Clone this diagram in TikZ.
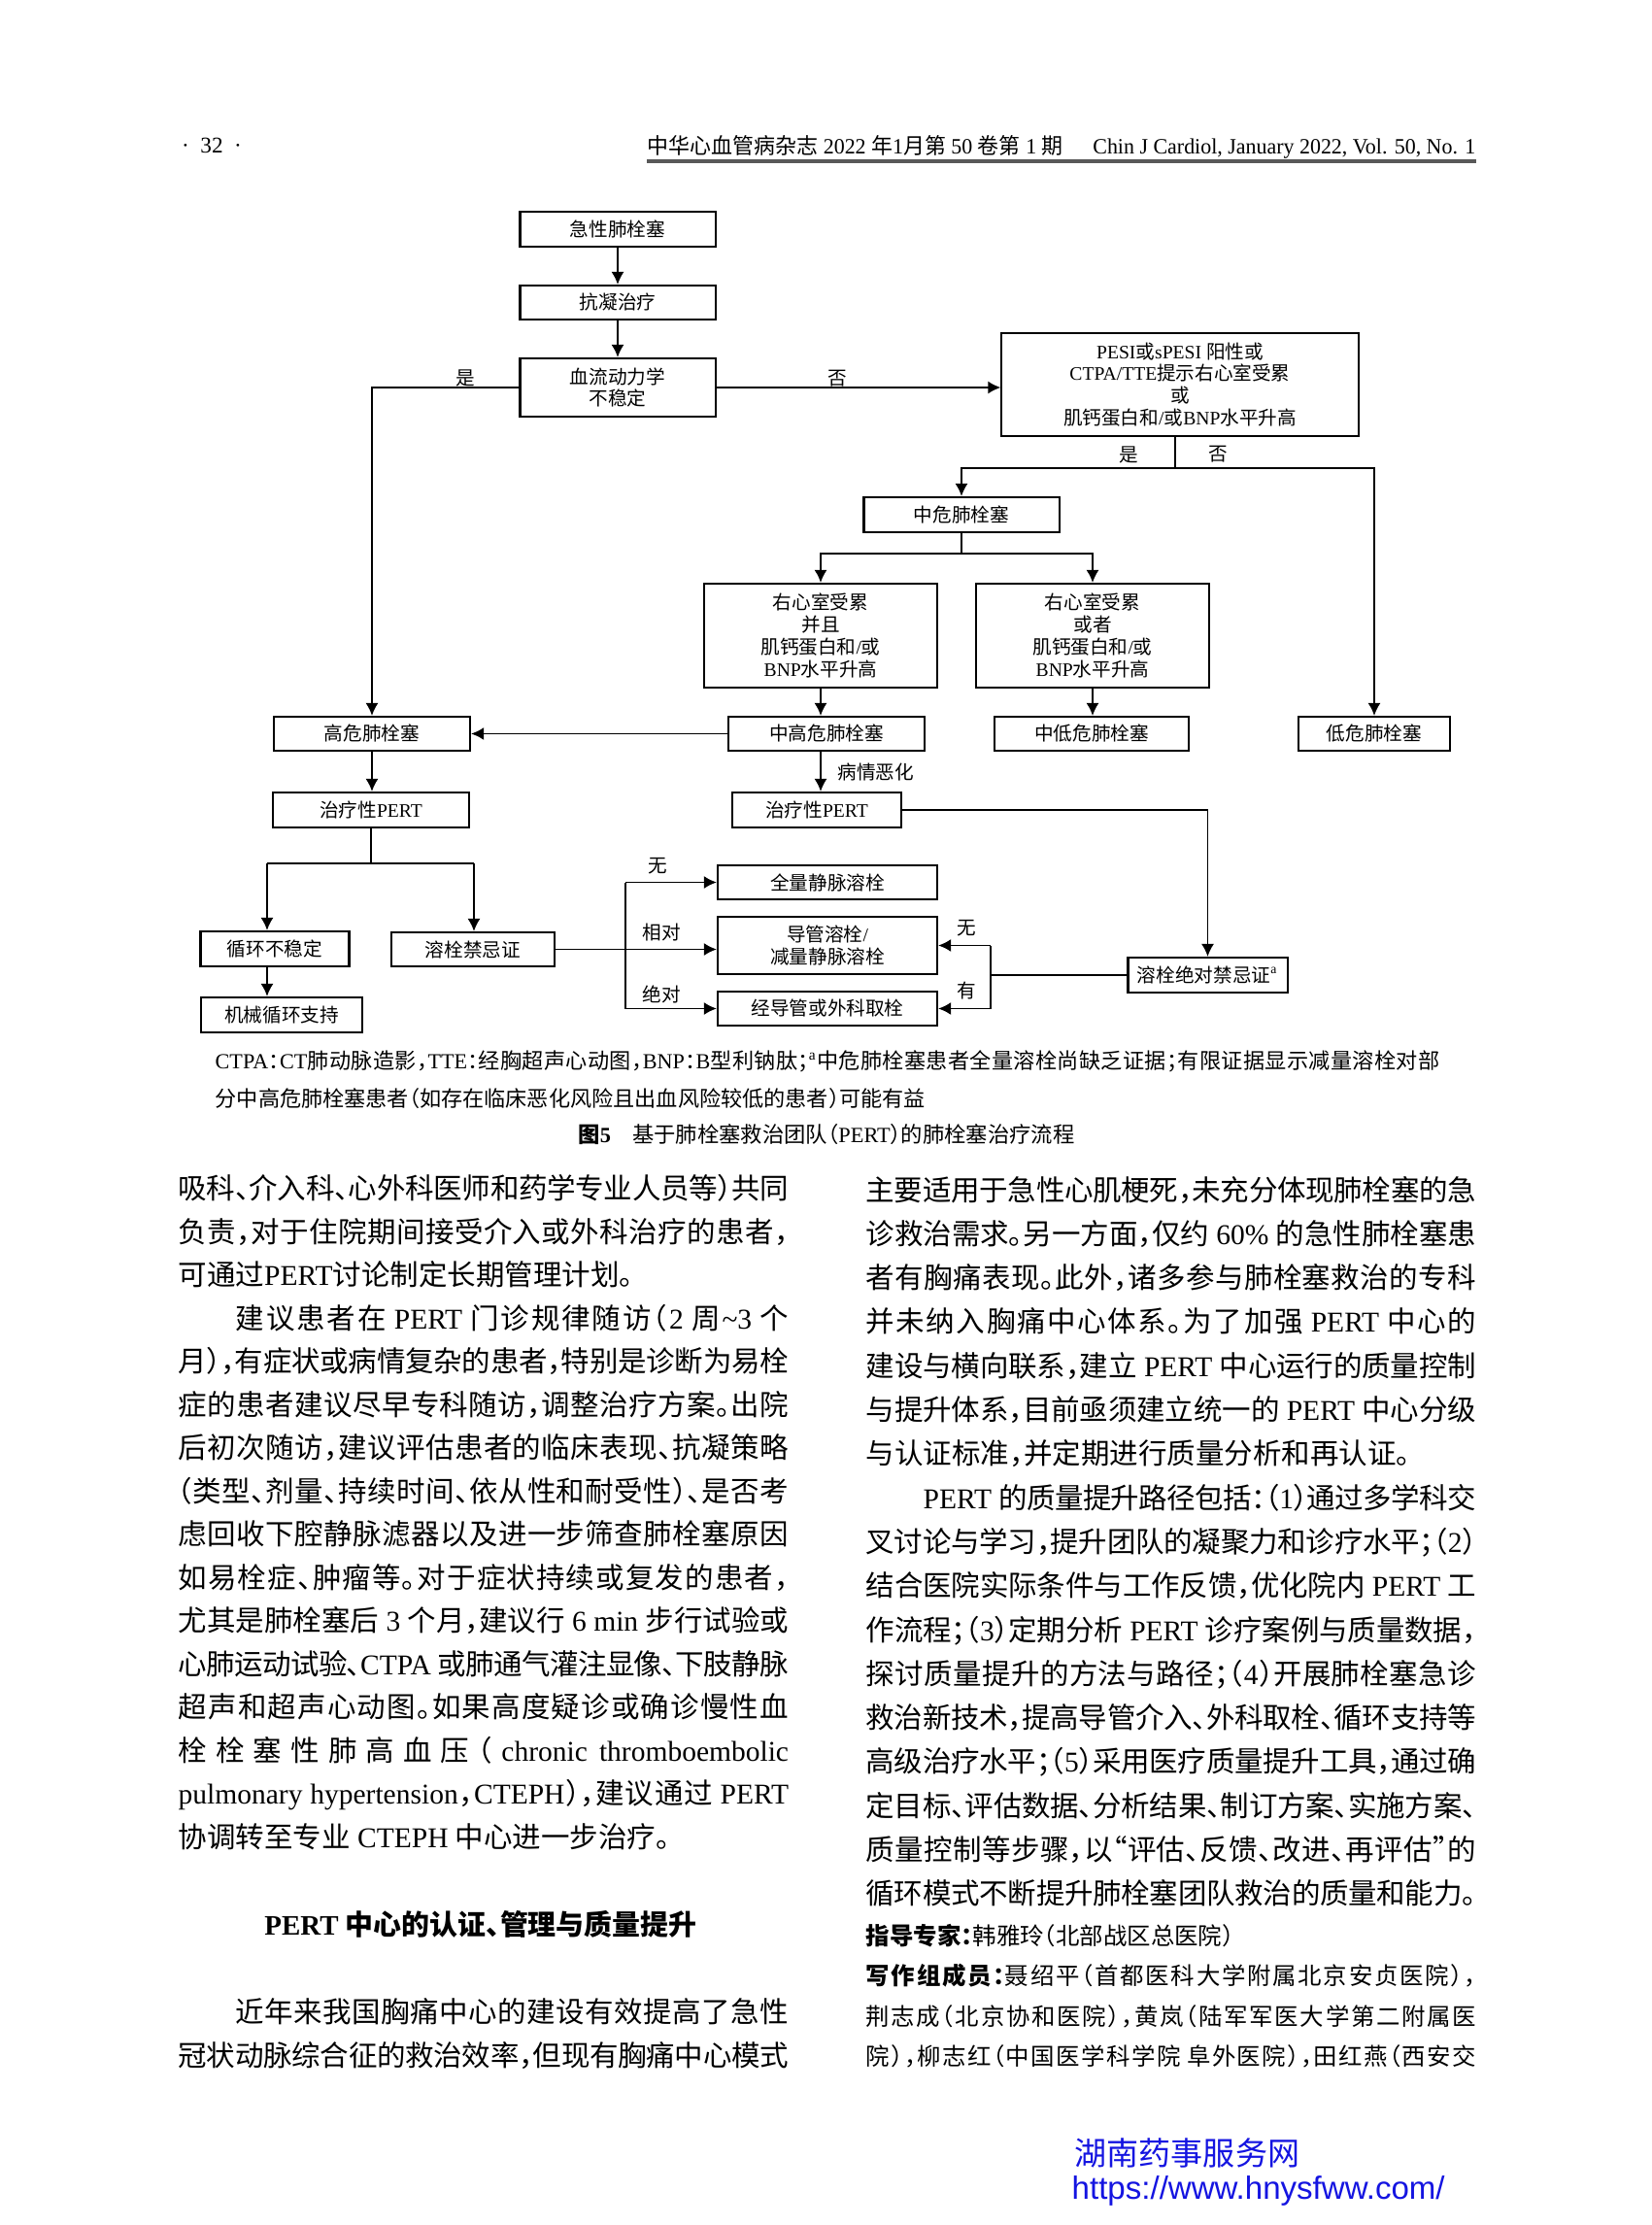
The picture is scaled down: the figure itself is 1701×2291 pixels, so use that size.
\documentclass[tikz,border=0pt]{standalone}
\usepackage{fontspec}
\usepackage{graphicx}
\usetikzlibrary{arrows.meta}
\setmainfont{Liberation Serif}
\newfontfamily\latf{Liberation Serif}
\newfontfamily\cjkf[RawFeature={+halt}]{Noto Sans CJK SC}
\newfontfamily\wmf{Liberation Sans}
% automatic switching between Latin and CJK fonts
\XeTeXinterchartokenstate=1
\ifdefined\newXeTeXintercharclass
  \newXeTeXintercharclass\CJKcls
\else
  \chardef\CJKcls=7
\fi
\newcount\cjkcnt
\def\cjkrange#1#2{\cjkcnt=#1\relax
  \loop\XeTeXcharclass\cjkcnt=\CJKcls\relax
  \ifnum\cjkcnt<#2\relax\advance\cjkcnt by 1\relax\repeat}
\cjkrange{"3000}{"303F}
\cjkrange{"4E00}{"9FFF}
\cjkrange{"FF00}{"FFEF}
\XeTeXcharclass"201C=\CJKcls
\XeTeXcharclass"201D=\CJKcls
\def\cjkglue{\hskip0pt plus 2pt minus 1pt\relax}
\XeTeXinterchartoks 0 \CJKcls={\cjkglue\cjkf}
\XeTeXinterchartoks 4095 \CJKcls={\cjkf}
\XeTeXinterchartoks \CJKcls 0={\latf\cjkglue}
\XeTeXinterchartoks \CJKcls 4095={\latf}
\XeTeXinterchartoks \CJKcls \CJKcls={\cjkglue}

\newcommand\figf{\fontsize{5.58}{6.5}\selectfont}
\newcommand\bodyf{\fontsize{8.39}{10}\selectfont}
\newcommand\notef{\fontsize{6.3}{7.5}\selectfont}
\newcommand\smallf{\fontsize{6.95}{8}\selectfont}
\newlength\colw \setlength\colw{6.28cm}
\newcommand\fl[1]{\hbox to\colw{#1}}
\definecolor{wmblue}{RGB}{20,20,225}

\tikzset{
  box/.style={draw, line width=0.6pt, inner sep=0pt, align=center, font=\figf},
  arr/.style={line width=0.5pt, -{Latex[length=1.3mm,width=1.3mm]}},
  ln/.style={line width=0.5pt},
  lbl/.style={inner sep=0pt, font=\figf},
  bl/.style={anchor=base west, inner sep=0pt, font=\bodyf},
  sl/.style={anchor=base west, inner sep=0pt, font=\smallf},
}

\begin{document}
\begin{tikzpicture}[x=0.01cm,y=-0.01cm]
\fill[white] (0,0) rectangle (1701,2291);
\useasboundingbox (0,0) rectangle (1701,2291);

% ---------- header ----------
\node[inner sep=0pt, anchor=base, font=\fontsize{6.6}{8}\selectfont] (pg) at (218,158) {·\hspace{0.5em}32\hspace{0.5em}·};
\node[inner sep=0pt, anchor=base east, font=\fontsize{6.4}{8}\selectfont] (hd) at (1520,158)
  {\resizebox{8.52cm}{\height}{中华心血管病杂志 2022 年1月第 50 卷第 1 期\hspace{1.4em}Chin J Cardiol, January 2022, Vol. 50, No. 1}};
\draw[line width=0.9pt, black!65] (hd.south west |- 0,166) -- (hd.south east |- 0,166);

% ---------- flowchart boxes ----------
\node[box, minimum width=2.01cm, minimum height=0.36cm] (b1) at (636,236) {急性肺栓塞};
\node[box, minimum width=2.01cm, minimum height=0.35cm] (b2) at (636,311.5) {抗凝治疗};
\node[box, minimum width=2.01cm, minimum height=0.60cm] (b3) at (636,399) {血流动力学\\不稳定};
\node[box, minimum width=3.67cm, minimum height=1.06cm] (b4) at (1215,396)
  {PESI或sPESI 阳性或\\CTPA/TTE提示右心室受累\\或\\肌钙蛋白和/或BNP水平升高};
\node[box, minimum width=2.01cm, minimum height=0.36cm] (b5) at (990,530) {中危肺栓塞};
\node[box, minimum width=2.40cm, minimum height=1.07cm] (b6) at (845,654.5)
  {右心室受累\\并且\\肌钙蛋白和/或\\BNP水平升高};
\node[box, minimum width=2.40cm, minimum height=1.07cm] (b7) at (1125,654.5)
  {右心室受累\\或者\\肌钙蛋白和/或\\BNP水平升高};
\node[box, minimum width=2.02cm, minimum height=0.35cm] (b8) at (383,755.5) {高危肺栓塞};
\node[box, minimum width=2.02cm, minimum height=0.35cm] (b9) at (851,755.5) {中高危肺栓塞};
\node[box, minimum width=2.00cm, minimum height=0.35cm] (b10) at (1124,755.5) {中低危肺栓塞};
\node[box, minimum width=1.56cm, minimum height=0.35cm] (b11) at (1415,755.5) {低危肺栓塞};
\node[box, minimum width=2.02cm, minimum height=0.36cm] (b12) at (382,834) {治疗性PERT};
\node[box, minimum width=1.74cm, minimum height=0.36cm] (b13) at (841,834) {治疗性PERT};
\node[box, minimum width=1.53cm, minimum height=0.36cm] (b14) at (283,977) {循环不稳定};
\node[box, minimum width=1.68cm, minimum height=0.35cm] (b15) at (487,977.5) {溶栓禁忌证};
\node[box, minimum width=1.66cm, minimum height=0.36cm] (b16) at (290,1045) {机械循环支持};
\node[box, minimum width=2.26cm, minimum height=0.35cm] (b17) at (852,908.5) {全量静脉溶栓};
\node[box, minimum width=2.26cm, minimum height=0.59cm] (b18) at (852,973.5) {导管溶栓/\\减量静脉溶栓};
\node[box, minimum width=2.26cm, minimum height=0.35cm] (b19) at (852,1038.5) {经导管或外科取栓};
\node[box, minimum width=1.64cm, minimum height=0.36cm] (b20) at (1243.5,1004) {溶栓绝对禁忌证\textsuperscript{\latf a}};

% ---------- junction points ----------
\coordinate (j1) at (1210,482);
\coordinate (j2) at (990,570);
\coordinate (j3) at (382,889);
\coordinate (j3l) at (275,889);
\coordinate (j3r) at (488,889);
\coordinate (v1) at (644,908.5);
\coordinate (v2) at (644,1038.5);
\coordinate (v3) at (1020,973.5);
\coordinate (v4) at (1020,1038.5);

% ---------- connectors ----------
\draw[arr] (b1) -- (b2);
\draw[arr] (b2) -- (b3);
\draw[arr] (b3.east) -- (b3.east -| b4.west);
\draw[arr] (b3.west) -| (b8.north);
\draw[ln] (j1 |- b4.south) -- (j1);
\draw[arr] (j1) -| (b5.north);
\draw[arr] (j1) -| (b11.north);
\draw[ln] (b5.south) -- (j2);
\draw[arr] (j2) -| (b6.north);
\draw[arr] (j2) -| (b7.north);
\draw[arr] (b6.south) -- (b6.south |- b9.north);
\draw[arr] (b7.south) -- (b7.south |- b10.north);
\draw[arr] (b9.west) -- (b8.east);
\draw[arr] (b8.south) -- (b8.south |- b12.north);
\draw[arr] (b6.south |- b9.south) -- (b6.south |- b13.north);
\draw[arr] (b13.east) -| (b20.north);
\draw[ln] (b12.south) -- (j3);
\draw[ln] (j3l) -- (j3r);
\draw[arr] (j3l) -- (j3l |- b14.north);
\draw[arr] (j3r) -- (j3r |- b15.north);
\draw[arr] (j3l |- b14.south) -- (j3l |- b16.north);
\draw[arr] (b15.east) -- (b15.east -| b18.west);
\draw[ln] (v1) -- (v2);
\draw[arr] (v1) -- (b17.west);
\draw[arr] (v2) -- (b19.west);
\draw[ln] (b20.west) -- (b20.west -| v3);
\draw[ln] (v3) -- (v4);
\draw[arr] (v3) -- (b18.east);
\draw[arr] (v4) -- (b19.east);

% ---------- connector labels ----------
\node[lbl] (t1) at (479,389) {是};
\node[lbl] (t2) at (862,390) {否};
\node[lbl] (t3) at (1162,468) {是};
\node[lbl] (t4) at (1254,468) {否};
\node[lbl, anchor=west] (t5) at (862,795) {病情恶化};
\node[lbl] (t6) at (677,892) {无};
\node[lbl] (t7) at (681,960) {相对};
\node[lbl] (t8) at (681,1023.5) {绝对};
\node[lbl] (t9) at (995,955.5) {无};
\node[lbl] (t10) at (995,1020.5) {有};

% ---------- figure notes and caption ----------
\node[anchor=base west, inner sep=0pt, font=\notef] (n1) at (221,1100)
  {\hbox to 12.6cm{CTPA：CT肺动脉造影，TTE：经胸超声心动图，BNP：B型利钠肽；\textsuperscript{\latf a}中危肺栓塞患者全量溶栓尚缺乏证据；有限证据显示减量溶栓对部}};
\node[anchor=base west, inner sep=0pt, font=\notef] (n2) at (221,1139)
  {分中高危肺栓塞患者（如存在临床恶化风险且出血风险较低的患者）可能有益};
\node[anchor=base, inner sep=0pt, font=\fontsize{6.35}{7.5}\selectfont] (cap) at (851,1176)
  {{\bfseries 图5}\hspace{1em}\cjkf 基于肺栓塞救治团队（PERT）的肺栓塞治疗流程};

% ---------- left column ----------
\node[bl] (l1) at (183,1234.5) {\fl{吸科、介入科、心外科医师和药学专业人员等）共同}};
\node[bl] (l2) at (183,1279) {\fl{负责，对于住院期间接受介入或外科治疗的患者，}};
\node[bl] (l3) at (183,1323.5) {可通过PERT讨论制定长期管理计划。};
\node[bl] (l4) at (183,1368) {\fl{\hskip2em 建议患者在 PERT 门诊规律随访（2 周\string~3 个}};
\node[bl] (l5) at (183,1412.5) {\fl{月），有症状或病情复杂的患者，特别是诊断为易栓}};
\node[bl] (l6) at (183,1457) {\fl{症的患者建议尽早专科随访，调整治疗方案。出院}};
\node[bl] (l7) at (183,1501.5) {\fl{后初次随访，建议评估患者的临床表现、抗凝策略}};
\node[bl] (l8) at (183,1546) {\fl{（类型、剂量、持续时间、依从性和耐受性）、是否考}};
\node[bl] (l9) at (183,1590.5) {\fl{虑回收下腔静脉滤器以及进一步筛查肺栓塞原因}};
\node[bl] (l10) at (183,1635) {\fl{如易栓症、肿瘤等。对于症状持续或复发的患者，}};
\node[bl] (l11) at (183,1679.5) {\fl{尤其是肺栓塞后 3 个月，建议行 6 min 步行试验或}};
\node[bl] (l12) at (183,1724) {\fl{心肺运动试验、CTPA 或肺通气灌注显像、下肢静脉}};
\node[bl] (l13) at (183,1768.5) {\fl{超声和超声心动图。如果高度疑诊或确诊慢性血}};
\node[bl] (l14) at (183,1813) {\fl{栓栓塞性肺高血压（chronic thromboembolic}};
\node[bl] (l15) at (183,1857.5) {\fl{pulmonary hypertension，CTEPH），建议通过 PERT}};
\node[bl] (l16) at (183,1902) {协调转至专业 CTEPH 中心进一步治疗。};
\node[anchor=base, inner sep=0pt, font=\fontsize{8.23}{9.5}\selectfont\bfseries] (hd2) at (495,1992)
  {PERT 中心的认证、管理与质量提升};
\node[bl] (l17) at (183,2082.5) {\fl{\hskip2em 近年来我国胸痛中心的建设有效提高了急性}};
\node[bl] (l18) at (183,2127) {\fl{冠状动脉综合征的救治效率，但现有胸痛中心模式}};

% ---------- right column ----------
\node[bl] (r1) at (891,1236) {\fl{主要适用于急性心肌梗死，未充分体现肺栓塞的急}};
\node[bl] (r2) at (891,1281.3) {\fl{诊救治需求。另一方面，仅约 60\% 的急性肺栓塞患}};
\node[bl] (r3) at (891,1326.6) {\fl{者有胸痛表现。此外，诸多参与肺栓塞救治的专科}};
\node[bl] (r4) at (891,1371.9) {\fl{并未纳入胸痛中心体系。为了加强 PERT 中心的}};
\node[bl] (r5) at (891,1417.2) {\fl{建设与横向联系，建立 PERT 中心运行的质量控制}};
\node[bl] (r6) at (891,1462.5) {\fl{与提升体系，目前亟须建立统一的 PERT 中心分级}};
\node[bl] (r7) at (891,1507.8) {与认证标准，并定期进行质量分析和再认证。};
\node[bl] (r8) at (891,1553.1) {\fl{\hskip2em PERT 的质量提升路径包括：（1）通过多学科交}};
\node[bl] (r9) at (891,1598.4) {\fl{叉讨论与学习，提升团队的凝聚力和诊疗水平；（2）}};
\node[bl] (r10) at (891,1643.7) {\fl{结合医院实际条件与工作反馈，优化院内 PERT 工}};
\node[bl] (r11) at (891,1689) {\fl{作流程；（3）定期分析 PERT 诊疗案例与质量数据，}};
\node[bl] (r12) at (891,1734.3) {\fl{探讨质量提升的方法与路径；（4）开展肺栓塞急诊}};
\node[bl] (r13) at (891,1779.6) {\fl{救治新技术，提高导管介入、外科取栓、循环支持等}};
\node[bl] (r14) at (891,1824.9) {\fl{高级治疗水平；（5）采用医疗质量提升工具，通过确}};
\node[bl] (r15) at (891,1870.2) {\fl{定目标、评估数据、分析结果、制订方案、实施方案、}};
\node[bl] (r16) at (891,1915.5) {\fl{质量控制等步骤，以“评估、反馈、改进、再评估”的}};
\node[bl] (r17) at (891,1960.8) {\fl{循环模式不断提升肺栓塞团队救治的质量和能力。}};
\node[sl] (r18) at (891,2002) {{\bfseries 指导专家：}\cjkf 韩雅玲（北部战区总医院）};
\node[sl] (r19) at (891,2043) {\fl{{\bfseries 写作组成员：}\cjkf 聂绍平（首都医科大学附属北京安贞医院），}};
\node[sl] (r20) at (891,2085) {\fl{荆志成（北京协和医院），黄岚（陆军军医大学第二附属医}};
\node[sl] (r21) at (891,2126) {\fl{院），柳志红（中国医学科学院 阜外医院），田红燕（西安交}};

% ---------- watermark ----------
\node[anchor=base west, inner sep=0pt, text=wmblue, font=\wmf\fontsize{9.4}{11}\selectfont] (w1) at (1106,2229) {湖南药事服务网};
\node[anchor=base west, inner sep=0pt, text=wmblue, font=\wmf\fontsize{9.4}{11}\selectfont] (w2) at (1103,2264) {https://www.hnysfww.com/};
\end{tikzpicture}
\end{document}
